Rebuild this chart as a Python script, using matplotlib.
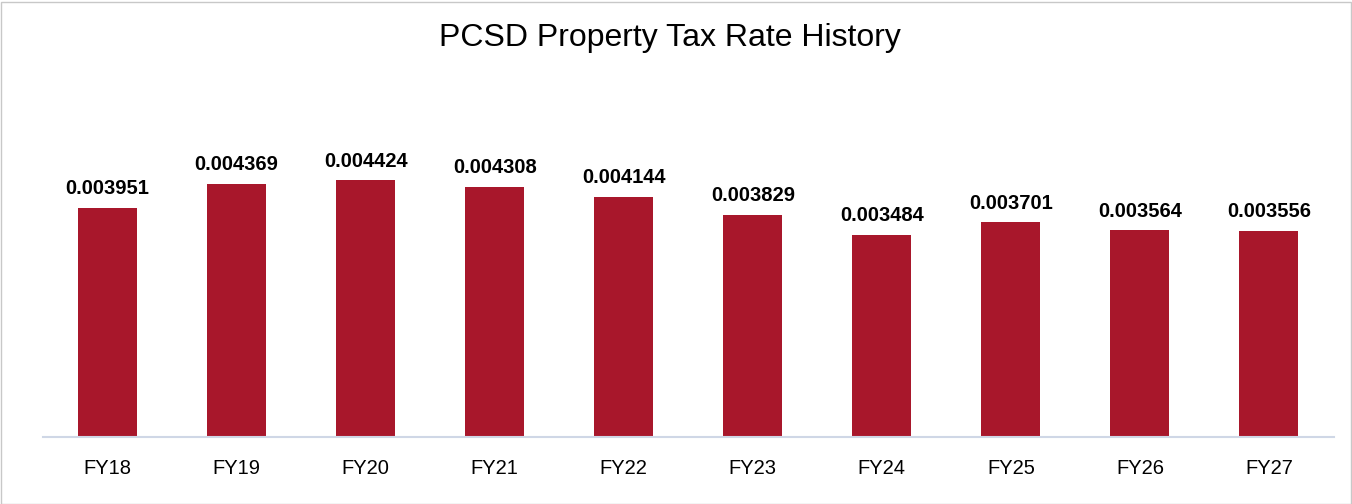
import matplotlib
matplotlib.use("Agg")
import matplotlib.pyplot as plt
from matplotlib.patches import Rectangle

categories = ["FY18", "FY19", "FY20", "FY21", "FY22", "FY23", "FY24", "FY25", "FY26", "FY27"]
rates = [0.003951, 0.004369, 0.004424, 0.004308, 0.004144, 0.003829, 0.003484, 0.003701, 0.003564, 0.003556]

plt.rcParams['font.family'] = ['Liberation Sans', 'DejaVu Sans']

fig = plt.figure(figsize=(13.52, 5.04), dpi=100)
W, H = 1352, 504
ax = fig.add_axes([43 / W, 1 - 437 / H, (1333.5 - 43) / W, (437 - 89) / H])

x = range(len(categories))
bars = ax.bar(x, rates, width=0.457, color="#A8172B")
ax.set_xlim(-0.5, len(categories) - 0.5)
ax.set_ylim(0, 0.006)
for xi, v in zip(x, rates):
    ax.annotate(f"{v:.6f}", (xi, v), xytext=(0, 7), textcoords="offset points",
                ha="center", va="bottom", fontsize=14.5, fontweight="bold", color="black")

ax.set_xticks(list(x))
ax.set_xticklabels(categories, fontsize=14.5)
ax.tick_params(axis="x", length=0, pad=16)
ax.set_yticks([])
for s in ["top", "right", "left"]:
    ax.spines[s].set_visible(False)
ax.spines["bottom"].set_color("#CFD7E6")
ax.spines["bottom"].set_linewidth(1.5)

fig.text(670 / W, 1 - 38 / H, "PCSD Property Tax Rate History", ha="center", va="center", fontsize=23)
fig.patches.append(Rectangle((0.5 / W, 0.5 / H), 1 - 2 / W, 1 - 2 / H, transform=fig.transFigure,
                             fill=False, edgecolor="#C8C8C8", linewidth=1))

fig.savefig("out.png", dpi=100)
